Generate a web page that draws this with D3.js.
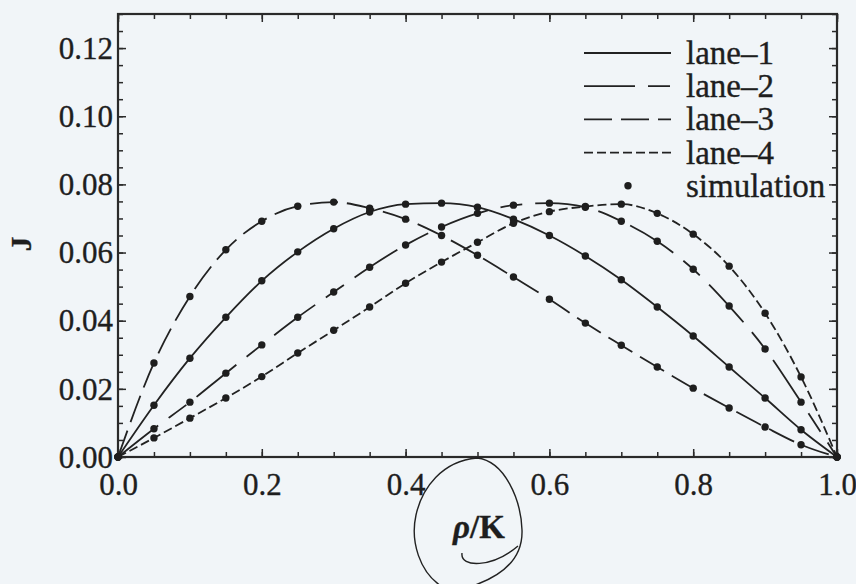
<!DOCTYPE html>
<html lang="en">
<head>
    <meta charset="UTF-8">
    <title>J vs rho/K</title>
    <style>
        body {
            margin: 0;
            background: #f1f5f8;
        }
        #chart text {
            font-family: "Liberation Serif", "Times New Roman", serif;
            fill: #1e1e1e;
            stroke: #1e1e1e;
            stroke-width: 0.35px;
        }
        .tick line {
            stroke: #2a2a2a;
            stroke-width: 1.5;
        }
        .curve {
            fill: none;
            stroke: #222;
            stroke-width: 1.8;
        }
    </style>
</head>
<body>
    <svg id="chart" width="856" height="584"></svg>

    <script src="https://d3js.org/d3.v7.min.js"></script>
    <script>
        // density rho/K, sampled every 0.05
        const rho = [0, 0.05, 0.1, 0.15, 0.2, 0.25, 0.3, 0.35, 0.4, 0.45, 0.5,
                     0.55, 0.6, 0.65, 0.7, 0.75, 0.8, 0.85, 0.9, 0.95, 1.0];

        // flux J
        const lane1 = [0, 0.0152, 0.029, 0.041, 0.0517, 0.0602, 0.067, 0.0719, 0.0742, 0.0745, 0.0733,
                       0.0698, 0.065, 0.059, 0.052, 0.044, 0.0355, 0.0264, 0.0173, 0.008, 0];
        const lane2 = [0, 0.0083, 0.0161, 0.0246, 0.0329, 0.041, 0.0484, 0.0557, 0.0622, 0.0675, 0.0715,
                       0.0739, 0.0745, 0.0733, 0.0692, 0.0633, 0.0551, 0.0443, 0.0317, 0.0161, 0];
        const lane3 = [0, 0.0276, 0.0471, 0.0608, 0.0692, 0.0736, 0.0748, 0.073, 0.0698, 0.065, 0.0592,
                       0.0528, 0.0463, 0.0393, 0.0328, 0.0264, 0.0202, 0.0144, 0.0088, 0.0036, 0];
        const lane4 = [0, 0.0056, 0.0114, 0.0173, 0.0236, 0.0305, 0.0372, 0.044, 0.051, 0.0572, 0.063,
                       0.0686, 0.072, 0.0735, 0.0742, 0.0715, 0.0654, 0.056, 0.0422, 0.0235, 0];

        const xTicks = [0, 0.2, 0.4, 0.6, 0.8, 1.0];
        const yTicks = [0, 0.02, 0.04, 0.06, 0.08, 0.10, 0.12];
        const legendLabels = ['lane\u20131', 'lane\u20132', 'lane\u20133', 'lane\u20134', 'simulation'];
        const dashes = [null, '51,13,22,13', '28,9', '9,4'];

        const svg = d3.select('#chart');
        const pLeft = 118, pRight = 837, pTop = 14, pBottom = 457;

        const x = d3.scaleLinear().domain([0, 1]).range([pLeft, pRight]);
        const y = d3.scaleLinear().domain([0, 0.13]).range([pBottom, pTop]);

        svg.append('rect')
            .attr('width', 856).attr('height', 584)
            .attr('fill', '#f1f5f8');

        // axes: inward ticks on all four sides, minor ticks without labels
        const xMinor = d3.range(0, 1.0001, 0.05);
        const yMinor = d3.range(0, 0.1301, 0.005);

        function addAxis(axis, transform, labels) {
            const g = svg.append('g').attr('transform', transform).call(axis);
            g.select('.domain').remove();
            g.selectAll('text').style('font-size', '31px');
            if (!labels) g.selectAll('text').remove();
            return g;
        }

        addAxis(d3.axisBottom(x).tickValues(xMinor).tickSize(-5), `translate(0,${pBottom})`, false);
        addAxis(d3.axisBottom(x).tickValues(xTicks).tickSize(-8).tickPadding(16)
            .tickFormat(d3.format('.1f')), `translate(0,${pBottom})`, true);
        addAxis(d3.axisTop(x).tickValues(xMinor).tickSize(-5), `translate(0,${pTop})`, false);
        addAxis(d3.axisTop(x).tickValues(xTicks).tickSize(-8), `translate(0,${pTop})`, false);

        addAxis(d3.axisLeft(y).tickValues(yMinor).tickSize(-5), `translate(${pLeft},0)`, false);
        addAxis(d3.axisLeft(y).tickValues(yTicks).tickSize(-8).tickPadding(5)
            .tickFormat(d3.format('.2f')), `translate(${pLeft},0)`, true)
            .selectAll('text').attr('dy', '0.33em');
        addAxis(d3.axisRight(y).tickValues(yMinor).tickSize(-5), `translate(${pRight},0)`, false);
        addAxis(d3.axisRight(y).tickValues(yTicks).tickSize(-8), `translate(${pRight},0)`, false);

        svg.append('rect')
            .attr('x', pLeft).attr('y', pTop)
            .attr('width', pRight - pLeft).attr('height', pBottom - pTop)
            .attr('fill', 'none')
            .attr('stroke', '#2a2a2a')
            .attr('stroke-width', 2.2);

        // curves + simulation dots
        const series = [lane1, lane2, lane3, lane4];
        const line = d3.line()
            .x((d, i) => x(rho[i]))
            .y(d => y(d))
            .curve(d3.curveMonotoneX);

        series.forEach((vals, k) => {
            svg.append('path')
                .datum(vals)
                .attr('class', 'curve')
                .attr('stroke-dasharray', dashes[k])
                .attr('d', line);
        });

        series.forEach(vals => {
            svg.append('g').selectAll('circle')
                .data(vals)
                .enter().append('circle')
                .attr('cx', (d, i) => x(rho[i]))
                .attr('cy', d => y(d))
                .attr('r', 3.7)
                .attr('fill', '#1e1e1e');
        });

        // legend
        const legend = svg.append('g');
        legendLabels.forEach((lab, i) => {
            const ly = 53 + i * 33.2;
            if (i < 4) {
                legend.append('line')
                    .attr('x1', 584).attr('x2', 671)
                    .attr('y1', ly).attr('y2', ly)
                    .attr('class', 'curve')
                    .attr('stroke-dasharray', dashes[i]);
            } else {
                legend.append('circle')
                    .attr('cx', 628).attr('cy', ly)
                    .attr('r', 3.7).attr('fill', '#1e1e1e');
            }
            legend.append('text')
                .attr('x', 686).attr('y', ly + 11)
                .style('font-size', '33px')
                .text(lab);
        });

        // axis titles
        svg.append('text')
            .attr('transform', 'translate(31,244) rotate(-90)')
            .attr('text-anchor', 'middle')
            .style('font-size', '29px')
            .style('font-weight', 'bold')
            .text('J');

        const xt = svg.append('text')
            .attr('x', 479).attr('y', 538)
            .attr('text-anchor', 'middle')
            .style('font-size', '33px')
            .style('font-weight', 'bold');
        xt.append('tspan').style('font-style', 'italic').text('\u03c1');
        xt.append('tspan').text('/K');

        // pen loop drawn round the x label on the printed page
        svg.append('path')
            .attr('d', 'M441,586 C420,572 410,542 416,515 C422,488 442,461 477,458 ' +
                       'C505,461 521,500 522,530 C523,560 500,578 466,588')
            .attr('fill', 'none').attr('stroke', '#222').attr('stroke-width', 1.4);
        svg.append('path')
            .attr('d', 'M462,553 C460,568 492,568 518,546')
            .attr('fill', 'none').attr('stroke', '#222').attr('stroke-width', 1.4);
    </script>
</body>
</html>
